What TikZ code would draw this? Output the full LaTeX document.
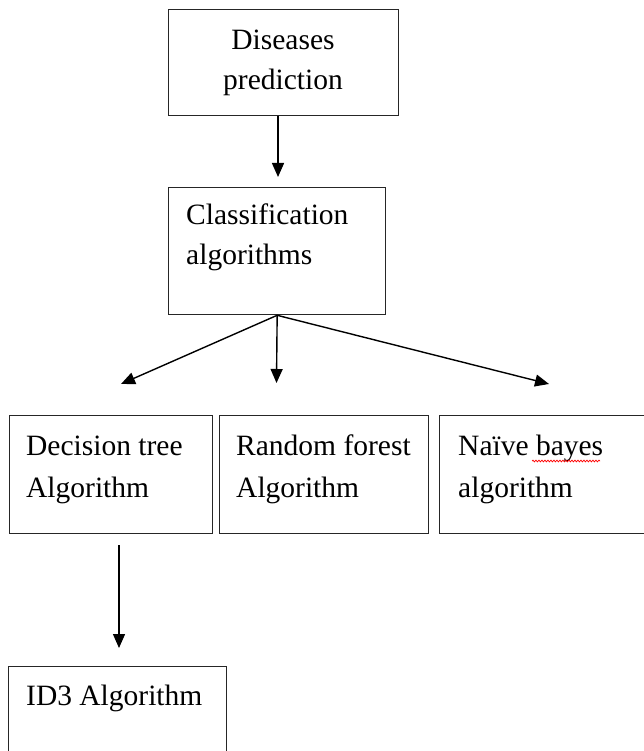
\documentclass[tikz,border=0pt]{standalone}
\usepackage{fontspec}
\setmainfont{Liberation Serif}
\usetikzlibrary{arrows.meta,decorations.pathmorphing}
\begin{document}
\begin{tikzpicture}[x=1pt,y=-1pt,
  box/.style={draw=black!85, line width=1.3pt, rectangle, inner sep=0pt, anchor=north west},
  lbl/.style={anchor=base west, inner sep=0pt, font=\fontsize{29.5}{36}\selectfont},
  clbl/.style={anchor=base, inner sep=0pt, font=\fontsize{29.5}{36}\selectfont},
  arr/.style={line width=1.4pt, draw=black, -{Triangle[length=14pt,width=12pt]}}]
\useasboundingbox (0,0) rectangle (643,751);
% boxes
\node[box, minimum width=230pt, minimum height=106pt] (dis) at (168,9) {};
\node[box, minimum width=217pt, minimum height=127pt] (cls) at (168,187) {};
\node[box, minimum width=203pt, minimum height=118pt] (dt) at (9,415) {};
\node[box, minimum width=209pt, minimum height=118pt] (rf) at (219,415) {};
\node[box, minimum width=208pt, minimum height=118pt] (nb) at (439,415) {};
\node[box, minimum width=218pt, minimum height=90pt] (id) at (8,666) {};
% texts
\node[clbl] (dis1) at (283,50) {Diseases};
\node[clbl] (dis2) at (283,90) {prediction};
\node[lbl] (cls1) at (186,225) {Classification};
\node[lbl] (cls2) at (186,264) {algorithms};
\node[lbl] (dt1) at (26,455) {Decision tree};
\node[lbl] (dt2) at (26,497) {Algorithm};
\node[lbl] (rf1) at (236,455) {Random forest};
\node[lbl] (rf2) at (236,497) {Algorithm};
\node[lbl] (nb1) at (458,455) {Naïve bayes};
\node[lbl] (nb2) at (458,497) {algorithm};
\node[lbl] (id1) at (26,705) {ID3 Algorithm};
% spell-check underline
\coordinate (sq1) at (532,461);
\coordinate (sq2) at (600,461);
\draw[red, line width=0.7pt, decorate, decoration={snake, amplitude=0.9pt, segment length=3pt}] (sq1) -- (sq2);
% arrow end points
\coordinate (t1) at (278,177);
\coordinate (tl) at (121,384);
\coordinate (tm) at (276.5,383);
\coordinate (tr) at (549,384);
\coordinate (s4) at (119,545);
\coordinate (t4) at (119,648);
% connectors
\draw[arr] (dis.south -| t1) -- (t1);
\draw[arr] (cls.south) -- (tl);
\draw[arr] (cls.south) -- (tm);
\draw[arr] (cls.south) -- (tr);
\draw[arr] (s4) -- (t4);
\end{tikzpicture}
\end{document}
